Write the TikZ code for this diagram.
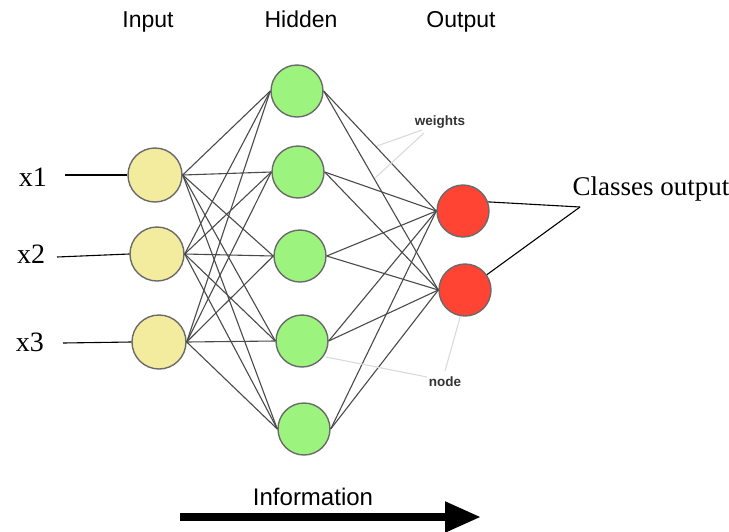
\documentclass[tikz,border=0pt]{standalone}
\usepackage{fontspec}
\setmainfont{Liberation Serif}
\newfontfamily\labsans{Liberation Sans}
\usetikzlibrary{arrows.meta}
\definecolor{incol}{HTML}{F3EC9E}
\definecolor{hidcol}{HTML}{9CF47E}
\definecolor{outcol}{HTML}{FF4434}
\definecolor{rimcol}{HTML}{6A6A6A}
\definecolor{edgecol}{HTML}{4A4A4A}
\definecolor{notecol}{HTML}{DADADA}
\definecolor{notetext}{HTML}{333333}
\tikzset{
  neuron/.style={circle, draw=rimcol, line width=1.4pt, minimum size=52pt, inner sep=0pt},
  innode/.style={neuron, fill=incol, minimum size=54pt},
  hidnode/.style={neuron, fill=hidcol},
  outnode/.style={neuron, fill=outcol},
  conn/.style={draw=edgecol, line width=1.1pt},
  noteline/.style={draw=notecol, line width=1.1pt},
  toplabel/.style={font=\labsans\fontsize{23}{27}\selectfont, anchor=base, inner sep=0pt},
  notelabel/.style={font=\labsans\bfseries\fontsize{13.5}{16}\selectfont, text=notetext, anchor=base, inner sep=0pt},
  serlabel/.style={font=\fontsize{28}{32}\selectfont, anchor=base, inner sep=0pt},
  clslabel/.style={font=\fontsize{27}{31}\selectfont, anchor=base, inner sep=0pt},
  feedline/.style={draw=black, line width=1.1pt}
}
\begin{document}
\begin{tikzpicture}[x=1pt,y=-1pt]
\useasboundingbox (0,0) rectangle (729,531);

% layer titles
\node[toplabel] (tin) at (148,27) {Input};
\node[toplabel] (thid) at (301,27) {Hidden};
\node[toplabel] (tout) at (461,27) {Output};

% nodes
\node[innode] (i1) at (155,175) {};
\node[innode] (i2) at (157,254) {};
\node[innode] (i3) at (159,342) {};

\node[hidnode] (h1) at (297,91) {};
\node[hidnode] (h2) at (298,172) {};
\node[hidnode] (h3) at (300,256) {};
\node[hidnode] (h4) at (302,341) {};
\node[hidnode] (h5) at (304,429) {};

\node[outnode] (o1) at (463,211) {};
\node[outnode] (o2) at (465,290) {};

% connections
\foreach \i in {1,2,3}{
  \foreach \h in {1,2,3,4,5}{
    \draw[conn] (i\i.east) -- (h\h.west);
  }
}
\foreach \h in {1,2,3,4,5}{
  \foreach \o in {1,2}{
    \draw[conn] (h\h.east) -- (o\o.west);
  }
}

% inputs
\node[serlabel] (lx1) at (33,186) {x1};
\node[serlabel] (lx2) at (31,263) {x2};
\node[serlabel] (lx3) at (30,351) {x3};
\coordinate (s1) at (65,175);
\coordinate (s2) at (57,257);
\coordinate (s3) at (63,343);
\draw[feedline] (s1) -- (i1.west);
\draw[feedline] (s2) -- (i2.west);
\draw[feedline] (s3) -- (i3.west);

% classes output
\node[clslabel] (cls) at (651,195) {Classes output};
\coordinate (cj) at (580,207);
\draw[feedline] (o1.20) -- (cj);
\draw[feedline] (o2.35) -- (cj);

% annotations
\node[notelabel] (wl) at (440,125) {weights};
\coordinate (w1) at (377,146);
\coordinate (w2) at (375,178);
\draw[noteline] (422,130) -- (w1);
\draw[noteline] (424,133) -- (w2);

\node[notelabel] (nl) at (445,386) {node};
\coordinate (n1) at (326,357);
\draw[noteline] (445,371) -- (o2.-100);
\draw[noteline] (427,377) -- (n1);

% information arrow
\node[toplabel, font=\labsans\fontsize{24}{28}\selectfont] (info) at (313,505) {Information};
\coordinate (as) at (180,517);
\coordinate (ae) at (481,517);
\draw[line width=8pt, -{Triangle[length=36pt,width=29pt]}] (as) -- (ae);
\end{tikzpicture}
\end{document}
